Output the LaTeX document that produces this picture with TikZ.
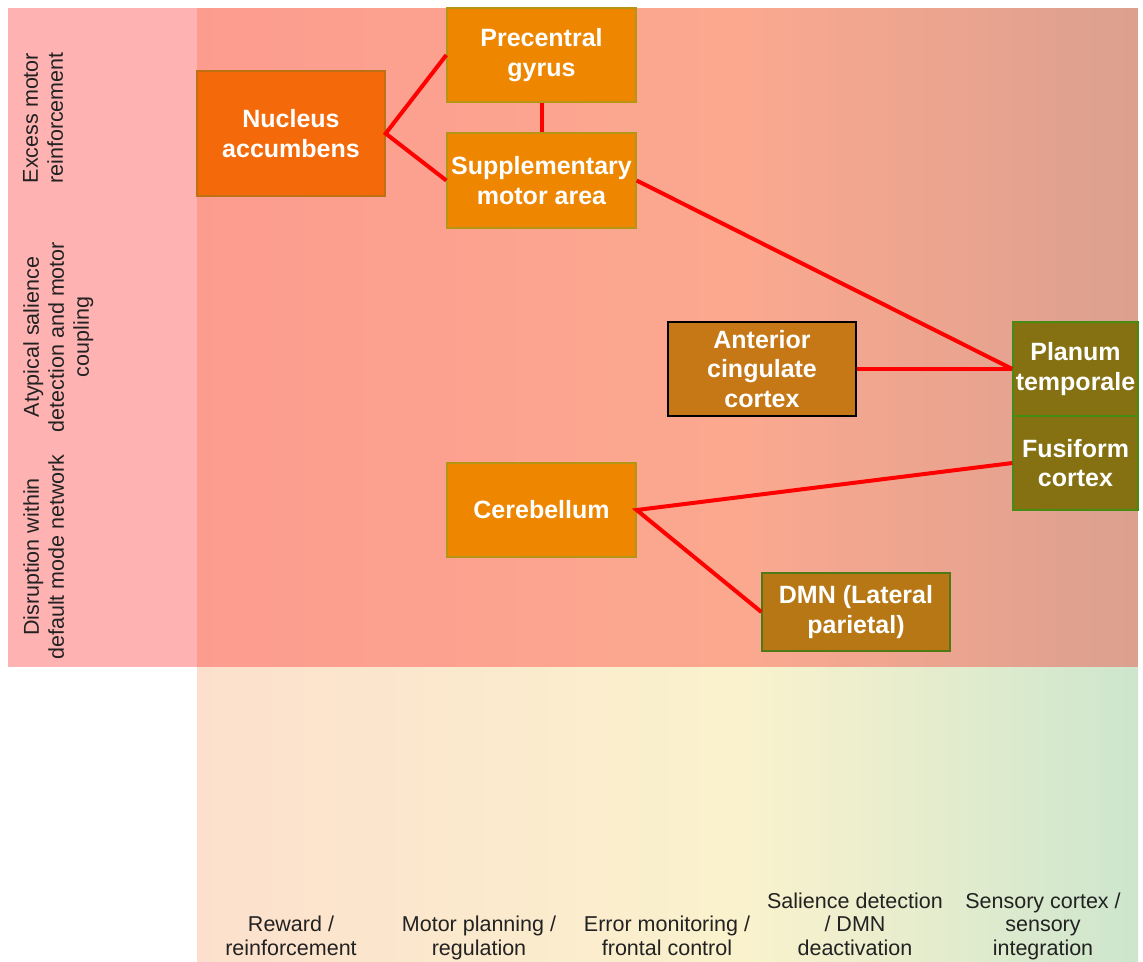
\documentclass[tikz,border=0pt]{standalone}
\usepackage{fontspec}
\setmainfont{Liberation Sans}
\usetikzlibrary{positioning}

% colour band behind the columns (peach -> pale yellow -> pale green)
\definecolor{bandL}{RGB}{252,224,205}
\definecolor{bandM}{RGB}{250,242,205}
\definecolor{bandR}{RGB}{205,230,205}
\pgfdeclarehorizontalshading{colband}{100bp}{%
  color(0bp)=(bandL); color(25bp)=(bandL); color(54bp)=(bandM);
  color(75bp)=(bandR); color(100bp)=(bandR)}

\definecolor{naccFill}{RGB}{244,106,10}
\definecolor{naccLine}{RGB}{190,112,20}
\definecolor{motorFill}{RGB}{238,134,0}
\definecolor{motorLine}{RGB}{180,150,20}
\definecolor{accFill}{RGB}{198,120,22}
\definecolor{sensFill}{RGB}{133,113,18}
\definecolor{sensLine}{RGB}{70,140,20}
\definecolor{dmnFill}{RGB}{183,119,20}
\definecolor{dmnLine}{RGB}{80,120,20}
\definecolor{labelText}{RGB}{34,34,34}

\tikzset{
  region/.style={draw, line width=1.3pt, inner sep=0pt, align=center,
    text=white, font=\fontsize{25}{29.5}\selectfont\bfseries},
  link/.style={draw=red, line width=4pt},
  rowlabel/.style={rotate=90, anchor=north, inner sep=0pt, align=center,
    text=labelText, font=\fontsize{21.5}{25}\selectfont},
  collabel/.style={anchor=base, inner sep=0pt, align=center,
    text=labelText, font=\fontsize{21.5}{23.5}\selectfont},
}

\begin{document}
\begin{tikzpicture}[x=1pt, y=-1pt]
  \useasboundingbox (0,0) rectangle (1143,961);

  % column band and the red tint over the three rows
  \fill[shading=colband] (197,8) rectangle (1138,961);
  \fill[red, opacity=0.3] (8,8) rectangle (1138,667);

  % row labels
  \node[rowlabel] (r1) at (23,118) {Excess motor\\reinforcement};
  \node[rowlabel] (r2) at (23,337) {Atypical salience\\detection and motor\\coupling};
  \node[rowlabel] (r3) at (23,557) {Disruption within\\default mode network};

  % column labels
  \node[collabel] (c1) at (291,955) {Reward /\\reinforcement};
  \node[collabel] (c2) at (479,955) {Motor planning /\\regulation};
  \node[collabel] (c3) at (667,955) {Error monitoring /\\frontal control};
  \node[collabel] (c4) at (855,955) {Salience detection\\/ DMN\\deactivation};
  \node[collabel] (c5) at (1043,955) {Sensory cortex /\\sensory\\integration};

  % brain regions
  \node[region, fill=naccFill, draw=naccLine, minimum width=188pt, minimum height=125pt]
    (nacc) at (291,133.5) {Nucleus\\accumbens};
  \node[region, fill=motorFill, draw=motorLine, minimum width=189pt, minimum height=94pt]
    (pre) at (541.5,55) {Precentral\\gyrus};
  \node[region, fill=motorFill, draw=motorLine, minimum width=189pt, minimum height=95pt]
    (sma) at (541.5,180.5) {Supplementary\\motor area};
  \node[region, fill=accFill, draw=black, minimum width=188pt, minimum height=94pt]
    (acc) at (762,369) {Anterior\\cingulate\\cortex};
  \node[region, fill=sensFill, draw=sensLine, minimum width=125pt, minimum height=94pt]
    (pt) at (1075.5,369) {Planum\\temporale};
  \node[region, fill=sensFill, draw=sensLine, minimum width=125pt, minimum height=94pt]
    (fus) at (1075.5,463) {Fusiform\\cortex};
  \node[region, fill=motorFill, draw=motorLine, minimum width=189pt, minimum height=94pt]
    (cer) at (541.5,510) {Cerebellum};
  \node[region, fill=dmnFill, draw=dmnLine, minimum width=188pt, minimum height=78pt]
    (dmn) at (856,612) {DMN (Lateral\\parietal)};

  % connections
  \draw[link] (pre.west) -- (nacc.east) -- (sma.west);
  \draw[link] (pre.south) -- (sma.north);
  \draw[link] (sma.east) -- (pt.west);
  \draw[link] (acc.east) -- (pt.west);
  \draw[link] (fus.west) -- (cer.east) -- (dmn.west);
\end{tikzpicture}
\end{document}
